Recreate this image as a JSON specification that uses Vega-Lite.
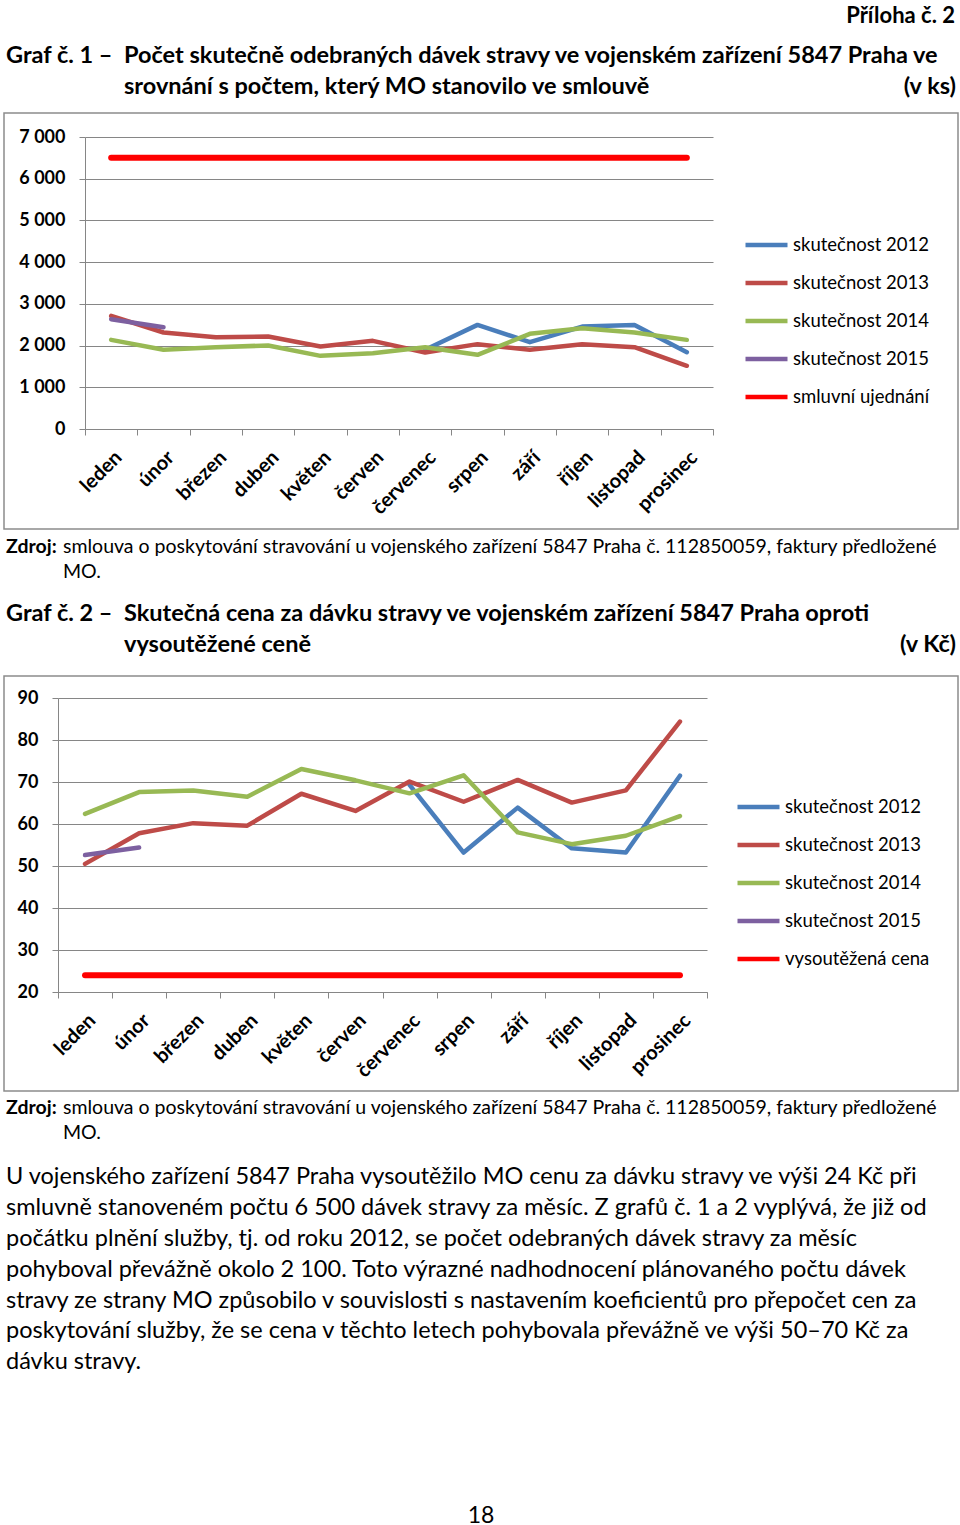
{
  "$schema": "https://vega.github.io/schema/vega-lite/v6.json",
  "padding": {"left": 3, "right": 3, "top": 0, "bottom": 0},
  "spacing": 0,
  "bounds": "flush",
  "resolve": {"scale": {"color": "independent"}, "legend": {"color": "independent"}},
  "config": {
    "font": "Lato",
    "view": {"stroke": null},
    "text": {"font": "Lato", "color": "#000000", "baseline": "alphabetic"},
    "axis": {
      "domainColor": "#868686",
      "tickColor": "#868686",
      "gridColor": "#868686",
      "labelColor": "#000000",
      "labelFont": "Lato",
      "labelFontWeight": "bold",
      "labelFontSize": 18,
      "title": null
    },
    "legend": {
      "orient": "none",
      "title": null,
      "symbolType": "stroke",
      "symbolSize": 1764,
      "symbolStrokeWidth": 4.5,
      "clipHeight": 20,
      "rowPadding": 18,
      "labelFontSize": 18.5,
      "labelFont": "Lato",
      "labelColor": "#000000",
      "labelOffset": 3,
      "padding": 0,
      "direction": "vertical"
    }
  },
  "datasets": {
    "c1": [
      {"m": "červenec", "s": "skutečnost 2012", "v": 1900},
      {"m": "srpen", "s": "skutečnost 2012", "v": 2496},
      {"m": "září", "s": "skutečnost 2012", "v": 2081},
      {"m": "říjen", "s": "skutečnost 2012", "v": 2456},
      {"m": "listopad", "s": "skutečnost 2012", "v": 2496},
      {"m": "prosinec", "s": "skutečnost 2012", "v": 1842},
      {"m": "leden", "s": "skutečnost 2013", "v": 2711},
      {"m": "únor", "s": "skutečnost 2013", "v": 2313},
      {"m": "březen", "s": "skutečnost 2013", "v": 2201},
      {"m": "duben", "s": "skutečnost 2013", "v": 2217},
      {"m": "květen", "s": "skutečnost 2013", "v": 1978},
      {"m": "červen", "s": "skutečnost 2013", "v": 2113},
      {"m": "červenec", "s": "skutečnost 2013", "v": 1834},
      {"m": "srpen", "s": "skutečnost 2013", "v": 2034},
      {"m": "září", "s": "skutečnost 2013", "v": 1898},
      {"m": "říjen", "s": "skutečnost 2013", "v": 2034},
      {"m": "listopad", "s": "skutečnost 2013", "v": 1962},
      {"m": "prosinec", "s": "skutečnost 2013", "v": 1515},
      {"m": "leden", "s": "skutečnost 2014", "v": 2137},
      {"m": "únor", "s": "skutečnost 2014", "v": 1898},
      {"m": "březen", "s": "skutečnost 2014", "v": 1962},
      {"m": "duben", "s": "skutečnost 2014", "v": 2002},
      {"m": "květen", "s": "skutečnost 2014", "v": 1754},
      {"m": "červen", "s": "skutečnost 2014", "v": 1818},
      {"m": "červenec", "s": "skutečnost 2014", "v": 1962},
      {"m": "srpen", "s": "skutečnost 2014", "v": 1778},
      {"m": "září", "s": "skutečnost 2014", "v": 2281},
      {"m": "říjen", "s": "skutečnost 2014", "v": 2416},
      {"m": "listopad", "s": "skutečnost 2014", "v": 2313},
      {"m": "prosinec", "s": "skutečnost 2014", "v": 2137},
      {"m": "leden", "s": "skutečnost 2015", "v": 2632},
      {"m": "únor", "s": "skutečnost 2015", "v": 2440},
      {"m": "leden", "s": "smluvní ujednání", "v": 6500},
      {"m": "únor", "s": "smluvní ujednání", "v": 6500},
      {"m": "březen", "s": "smluvní ujednání", "v": 6500},
      {"m": "duben", "s": "smluvní ujednání", "v": 6500},
      {"m": "květen", "s": "smluvní ujednání", "v": 6500},
      {"m": "červen", "s": "smluvní ujednání", "v": 6500},
      {"m": "červenec", "s": "smluvní ujednání", "v": 6500},
      {"m": "srpen", "s": "smluvní ujednání", "v": 6500},
      {"m": "září", "s": "smluvní ujednání", "v": 6500},
      {"m": "říjen", "s": "smluvní ujednání", "v": 6500},
      {"m": "listopad", "s": "smluvní ujednání", "v": 6500},
      {"m": "prosinec", "s": "smluvní ujednání", "v": 6500}
    ],
    "c2": [
      {"m": "červenec", "s": "skutečnost 2012", "v": 69.3},
      {"m": "srpen", "s": "skutečnost 2012", "v": 53.2},
      {"m": "září", "s": "skutečnost 2012", "v": 63.9},
      {"m": "říjen", "s": "skutečnost 2012", "v": 54.2},
      {"m": "listopad", "s": "skutečnost 2012", "v": 53.2},
      {"m": "prosinec", "s": "skutečnost 2012", "v": 71.5},
      {"m": "leden", "s": "skutečnost 2013", "v": 50.5},
      {"m": "únor", "s": "skutečnost 2013", "v": 57.8},
      {"m": "březen", "s": "skutečnost 2013", "v": 60.2},
      {"m": "duben", "s": "skutečnost 2013", "v": 59.6},
      {"m": "květen", "s": "skutečnost 2013", "v": 67.2},
      {"m": "červen", "s": "skutečnost 2013", "v": 63.1},
      {"m": "červenec", "s": "skutečnost 2013", "v": 70.1},
      {"m": "srpen", "s": "skutečnost 2013", "v": 65.3},
      {"m": "září", "s": "skutečnost 2013", "v": 70.5},
      {"m": "říjen", "s": "skutečnost 2013", "v": 65.1},
      {"m": "listopad", "s": "skutečnost 2013", "v": 68.0},
      {"m": "prosinec", "s": "skutečnost 2013", "v": 84.4},
      {"m": "leden", "s": "skutečnost 2014", "v": 62.4},
      {"m": "únor", "s": "skutečnost 2014", "v": 67.6},
      {"m": "březen", "s": "skutečnost 2014", "v": 68.0},
      {"m": "duben", "s": "skutečnost 2014", "v": 66.5},
      {"m": "květen", "s": "skutečnost 2014", "v": 73.1},
      {"m": "červen", "s": "skutečnost 2014", "v": 70.4},
      {"m": "červenec", "s": "skutečnost 2014", "v": 67.3},
      {"m": "srpen", "s": "skutečnost 2014", "v": 71.6},
      {"m": "září", "s": "skutečnost 2014", "v": 58.0},
      {"m": "říjen", "s": "skutečnost 2014", "v": 55.2},
      {"m": "listopad", "s": "skutečnost 2014", "v": 57.2},
      {"m": "prosinec", "s": "skutečnost 2014", "v": 61.9},
      {"m": "leden", "s": "skutečnost 2015", "v": 52.6},
      {"m": "únor", "s": "skutečnost 2015", "v": 54.4},
      {"m": "leden", "s": "vysoutěžená cena", "v": 24},
      {"m": "únor", "s": "vysoutěžená cena", "v": 24},
      {"m": "březen", "s": "vysoutěžená cena", "v": 24},
      {"m": "duben", "s": "vysoutěžená cena", "v": 24},
      {"m": "květen", "s": "vysoutěžená cena", "v": 24},
      {"m": "červen", "s": "vysoutěžená cena", "v": 24},
      {"m": "červenec", "s": "vysoutěžená cena", "v": 24},
      {"m": "srpen", "s": "vysoutěžená cena", "v": 24},
      {"m": "září", "s": "vysoutěžená cena", "v": 24},
      {"m": "říjen", "s": "vysoutěžená cena", "v": 24},
      {"m": "listopad", "s": "vysoutěžená cena", "v": 24},
      {"m": "prosinec", "s": "vysoutěžená cena", "v": 24}
    ],
    "blank": [{"k": 1}]
  },
  "vconcat": [
    {
      "width": 954, "height": 113,
      "data": {"name": "blank"},
      "layer": [
        {"mark": {"type": "text", "text": "Příloha č. 2", "x": 951, "y": 23, "align": "right", "fontSize": 22, "fontWeight": "bold"}},
        {"mark": {"type": "text", "text": "Graf č. 1 –", "x": 2, "y": 63, "align": "left", "fontSize": 23.5, "fontWeight": "bold"}},
        {"mark": {"type": "text", "text": "Počet skutečně odebraných dávek stravy ve vojenském zařízení 5847 Praha ve", "x": 120, "y": 63, "align": "left", "fontSize": 23.5, "fontWeight": "bold"}},
        {"mark": {"type": "text", "text": "srovnání s počtem, který MO stanovilo ve smlouvě", "x": 120, "y": 94, "align": "left", "fontSize": 23.5, "fontWeight": "bold"}},
        {"mark": {"type": "text", "text": "(v ks)", "x": 952, "y": 94, "align": "right", "fontSize": 23.5, "fontWeight": "bold"}}
      ]
    },
    {
      "width": 954, "height": 416,
      "view": {"stroke": "#8c8c8c", "strokeWidth": 1.5},
      "data": {"name": "c1"},
      "encoding": {
        "x": {
          "field": "m", "type": "nominal",
          "sort": ["leden", "únor", "březen", "duben", "květen", "červen", "červenec", "srpen", "září", "říjen", "listopad", "prosinec"],
          "scale": {"type": "band", "range": [81, 709], "paddingInner": 0, "paddingOuter": 0},
          "axis": {"offset": -100, "labelAngle": -45, "labelAlign": "right", "labelBaseline": "top", "tickBand": "extent", "tickSize": 6, "labelPadding": 12, "labelFontSize": 20, "grid": false}
        },
        "y": {
          "field": "v", "type": "quantitative",
          "scale": {"domain": [0, 7000], "range": [316, 24], "nice": false, "zero": false},
          "axis": {"offset": -81, "values": [0, 1000, 2000, 3000, 4000, 5000, 6000, 7000], "labelExpr": "replace(format(datum.value, ','), ',', ' ')", "grid": true, "tickSize": 6, "labelPadding": 14}
        },
        "color": {
          "field": "s", "type": "nominal",
          "scale": {"domain": ["skutečnost 2012", "skutečnost 2013", "skutečnost 2014", "skutečnost 2015", "smluvní ujednání"], "range": ["#4A7EBB", "#BE4B48", "#98B954", "#7D60A0", "#FF0000"]},
          "legend": {"legendX": 739, "legendY": 122}
        }
      },
      "layer": [
        {"transform": [{"filter": "datum.s !== 'smluvní ujednání'"}], "mark": {"type": "line", "strokeWidth": 4.5, "strokeCap": "round", "strokeJoin": "round"}},
        {"transform": [{"filter": "datum.s === 'smluvní ujednání'"}], "mark": {"type": "line", "strokeWidth": 6, "strokeCap": "round"}}
      ]
    },
    {
      "width": 954, "height": 147,
      "data": {"name": "blank"},
      "layer": [
        {"mark": {"type": "text", "text": "Zdroj:", "x": 2, "y": 24, "align": "left", "fontSize": 19.5, "fontWeight": "bold"}},
        {"mark": {"type": "text", "text": "smlouva o poskytování stravování u vojenského zařízení 5847 Praha č. 112850059, faktury předložené", "x": 59, "y": 24, "align": "left", "fontSize": 19.5}},
        {"mark": {"type": "text", "text": "MO.", "x": 59, "y": 49, "align": "left", "fontSize": 19.5}},
        {"mark": {"type": "text", "text": "Graf č. 2 –", "x": 2, "y": 92, "align": "left", "fontSize": 23.5, "fontWeight": "bold"}},
        {"mark": {"type": "text", "text": "Skutečná cena za dávku stravy ve vojenském zařízení 5847 Praha oproti", "x": 120, "y": 92, "align": "left", "fontSize": 23.5, "fontWeight": "bold"}},
        {"mark": {"type": "text", "text": "vysoutěžené ceně", "x": 120, "y": 123, "align": "left", "fontSize": 23.5, "fontWeight": "bold"}},
        {"mark": {"type": "text", "text": "(v Kč)", "x": 952, "y": 123, "align": "right", "fontSize": 23.5, "fontWeight": "bold"}}
      ]
    },
    {
      "width": 954, "height": 415,
      "view": {"stroke": "#8c8c8c", "strokeWidth": 1.5},
      "data": {"name": "c2"},
      "encoding": {
        "x": {
          "field": "m", "type": "nominal",
          "sort": ["leden", "únor", "březen", "duben", "květen", "červen", "červenec", "srpen", "září", "říjen", "listopad", "prosinec"],
          "scale": {"type": "band", "range": [54, 703], "paddingInner": 0, "paddingOuter": 0},
          "axis": {"offset": -99, "labelAngle": -45, "labelAlign": "right", "labelBaseline": "top", "tickBand": "extent", "tickSize": 6, "labelPadding": 12, "labelFontSize": 20, "grid": false}
        },
        "y": {
          "field": "v", "type": "quantitative",
          "scale": {"domain": [20, 90], "range": [316, 22], "nice": false, "zero": false},
          "axis": {"offset": -54, "values": [20, 30, 40, 50, 60, 70, 80, 90], "grid": true, "tickSize": 6, "labelPadding": 14}
        },
        "color": {
          "field": "s", "type": "nominal",
          "scale": {"domain": ["skutečnost 2012", "skutečnost 2013", "skutečnost 2014", "skutečnost 2015", "vysoutěžená cena"], "range": ["#4A7EBB", "#BE4B48", "#98B954", "#7D60A0", "#FF0000"]},
          "legend": {"legendX": 731, "legendY": 121}
        }
      },
      "layer": [
        {"transform": [{"filter": "datum.s !== 'vysoutěžená cena'"}], "mark": {"type": "line", "strokeWidth": 4.5, "strokeCap": "round", "strokeJoin": "round"}},
        {"transform": [{"filter": "datum.s === 'vysoutěžená cena'"}], "mark": {"type": "line", "strokeWidth": 6, "strokeCap": "round"}}
      ]
    },
    {
      "width": 954, "height": 434,
      "data": {"name": "blank"},
      "layer": [
        {"mark": {"type": "text", "text": "Zdroj:", "x": 2, "y": 23, "align": "left", "fontSize": 19.5, "fontWeight": "bold"}},
        {"mark": {"type": "text", "text": "smlouva o poskytování stravování u vojenského zařízení 5847 Praha č. 112850059, faktury předložené", "x": 59, "y": 23, "align": "left", "fontSize": 19.5}},
        {"mark": {"type": "text", "text": "MO.", "x": 59, "y": 48, "align": "left", "fontSize": 19.5}},
        {"mark": {"type": "text", "text": "U vojenského zařízení 5847 Praha vysoutěžilo MO cenu za dávku stravy ve výši 24 Kč při", "x": 2, "y": 93, "align": "left", "fontSize": 23.5}},
        {"mark": {"type": "text", "text": "smluvně stanoveném počtu 6 500 dávek stravy za měsíc. Z grafů č. 1 a 2 vyplývá, že již od", "x": 2, "y": 124, "align": "left", "fontSize": 23.5}},
        {"mark": {"type": "text", "text": "počátku plnění služby, tj. od roku 2012, se počet odebraných dávek stravy za měsíc", "x": 2, "y": 155, "align": "left", "fontSize": 23.5}},
        {"mark": {"type": "text", "text": "pohyboval převážně okolo 2 100. Toto výrazné nadhodnocení plánovaného počtu dávek", "x": 2, "y": 186, "align": "left", "fontSize": 23.5}},
        {"mark": {"type": "text", "text": "stravy ze strany MO způsobilo v souvislosti s nastavením koeficientů pro přepočet cen za", "x": 2, "y": 217, "align": "left", "fontSize": 23.5}},
        {"mark": {"type": "text", "text": "poskytování služby, že se cena v těchto letech pohybovala převážně ve výši 50–70 Kč za", "x": 2, "y": 247, "align": "left", "fontSize": 23.5}},
        {"mark": {"type": "text", "text": "dávku stravy.", "x": 2, "y": 278, "align": "left", "fontSize": 23.5}},
        {"mark": {"type": "text", "text": "18", "x": 477, "y": 432, "align": "center", "fontSize": 23}}
      ]
    }
  ]
}
